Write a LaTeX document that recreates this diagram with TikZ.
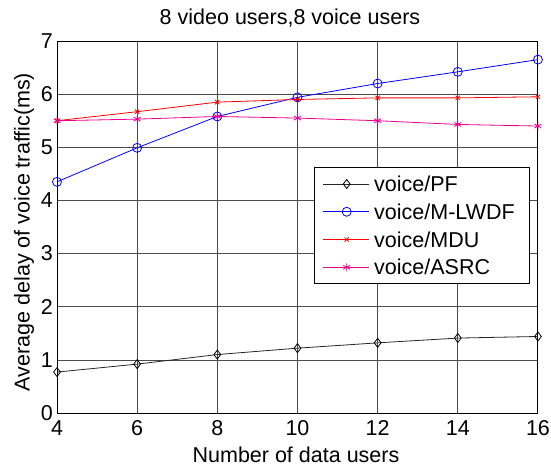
\documentclass[tikz,border=0pt]{standalone}
\usepackage{fontspec}
\setmainfont{Liberation Sans}
\usetikzlibrary{plotmarks}
\begin{document}
\begin{tikzpicture}[x=1pt,y=1pt,
  every node/.style={inner sep=0pt,font=\fontsize{21.5}{25}\selectfont},
  gridline/.style={black!70,line width=0.7pt},
  axisbox/.style={black,line width=1pt},
  pfline/.style={black!85,line width=0.8pt,mark=diamond,mark size=4.5pt,mark options={solid,fill=none,black}},
  mlwdfline/.style={blue,line width=0.8pt,mark=o,mark size=4.5pt,mark options={solid,fill=none}},
  mduline/.style={red,line width=0.8pt,mark=x,mark size=3pt,mark options={solid}},
  asrcline/.style={magenta,line width=0.8pt,mark=asterisk,mark size=4pt,mark options={solid}},
  legbox/.style={draw=black,fill=white,line width=0.8pt}]
\useasboundingbox (0,0) rectangle (551,466);
% axes: x from 4 to 16, y from 0 to 7
\begin{scope}[shift={(-103.32pt,53pt)},x=40.08pt,y=53.14pt]
\foreach \x in {6,8,...,14}
  \draw [gridline] (\x,0) -- (\x,7);
\foreach \y in {1,...,6}
  \draw [gridline] (4,\y) -- (16,\y);
\draw [axisbox] (4,0) rectangle (16,7);
\foreach \x in {4,6,...,16}
  \node (xt\x) at (\x,-0.29) {\x};
\foreach \y in {0,...,7}
  \node [anchor=east] (yt\y) at (3.9,\y) {\y};
% data
\draw [pfline] plot coordinates {(4,0.77) (6,0.92) (8,1.10) (10,1.22) (12,1.32) (14,1.41) (16,1.44)};
\draw [mlwdfline] plot coordinates {(4,4.35) (6,4.99) (8,5.58) (10,5.94) (12,6.20) (14,6.42) (16,6.65)};
\draw [mduline] plot coordinates {(4,5.50) (6,5.67) (8,5.85) (10,5.90) (12,5.93) (14,5.93) (16,5.95)};
\draw [asrcline] plot coordinates {(4,5.50) (6,5.53) (8,5.58) (10,5.55) (12,5.50) (14,5.43) (16,5.40)};
\end{scope}
% labels
\node (title) at (290,447.5) {8 video users,8 voice users};
\node (xlabel) at (296,11) {Number of data users};
\node [rotate=90] (ylabel) at (24,234) {Average delay of voice traffic(ms)};
% legend
\draw [legbox] (314,183) rectangle (529,299);
\foreach \st/\lab [count=\i] in {pfline/{voice/PF},mlwdfline/{voice/M-LWDF},mduline/{voice/MDU},asrcline/{voice/ASRC}} {
  \draw [\st,mark=none] (322.7,{282-(\i-1)*27.77}) -- (369.3,{282-(\i-1)*27.77});
  \draw [\st] plot coordinates {(346.7,{282-(\i-1)*27.77})};
  \node [anchor=west] (leg\i) at (374,{282-(\i-1)*27.77}) {\lab};
}
\end{tikzpicture}
\end{document}
